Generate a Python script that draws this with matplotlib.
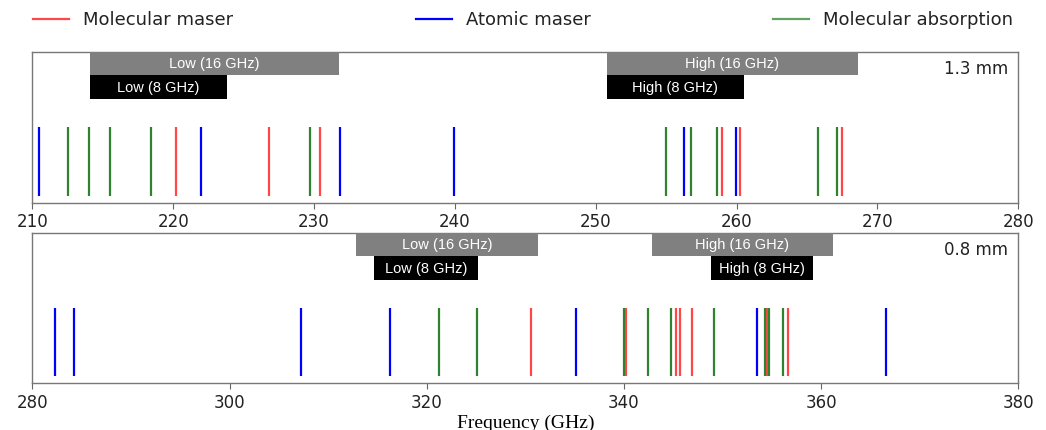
import matplotlib
matplotlib.use("Agg")
import matplotlib.pyplot as plt
from matplotlib.lines import Line2D
from matplotlib.patches import Rectangle
import matplotlib.transforms as mtransforms

# ---- data (GHz) ----
mol_maser_13 = [220.20, 226.82, 230.45, 258.96, 260.22, 267.45]
atomic_13 = [210.48, 221.96, 231.84, 239.94, 256.24, 259.94]
absorption_13 = [212.56, 214.03, 215.54, 218.41, 229.69, 254.97, 256.78, 258.61, 265.80, 267.11]

mol_maser_08 = [330.54, 340.17, 345.31, 345.68, 346.90, 354.47, 356.63]
atomic_08 = [282.29, 284.19, 307.20, 316.32, 335.18, 353.55, 366.57]
absorption_08 = [321.22, 325.11, 340.00, 342.40, 344.77, 349.09, 354.33, 354.74, 356.13]

band_names = ["Low (16 GHz)", "Low (8 GHz)", "High (16 GHz)", "High (8 GHz)"]
bands_13 = [(214.1, 231.8), (214.1, 223.8), (250.8, 268.6), (250.8, 260.5)]
bands_08 = [(312.8, 331.3), (314.7, 325.2), (342.8, 361.2), (348.8, 359.2)]

xlim_13 = (210, 280)
xlim_08 = (280, 380)
ticks_13 = [210, 220, 230, 240, 250, 260, 270, 280]
ticks_08 = [280, 300, 320, 340, 360, 380]

legend_labels = ["Molecular maser", "Atomic maser", "Molecular absorption"]

C_RED = (1.0, 0.0, 0.0, 0.72)
C_BLUE = (0.0, 0.0, 1.0, 1.0)
C_GREEN = "#2f822f"

fig = plt.figure(figsize=(10.46, 4.30), dpi=100)
ax1 = fig.add_axes([0.0309, 0.5286, 0.9426, 0.3505])
ax2 = fig.add_axes([0.0309, 0.1086, 0.9426, 0.3488])


def draw(ax, maser, atomic, absorb, bands, xlim, ticks, label):
    ax.set_xlim(*xlim)
    ax.set_ylim(0, 1)
    lw = 1.6
    ax.vlines(maser, 0.046, 0.5, color=C_RED, lw=lw)
    ax.vlines(atomic, 0.046, 0.5, color=C_BLUE, lw=lw)
    ax.vlines(absorb, 0.046, 0.5, color=C_GREEN, lw=lw)
    trans = mtransforms.blended_transform_factory(ax.transData, ax.transAxes)
    ys = [(0.848, 1.0, "#808080"), (0.69, 0.848, "black"),
          (0.848, 1.0, "#808080"), (0.69, 0.848, "black")]
    for (x0, x1), name, (y0, y1, c) in zip(bands, band_names, ys):
        ax.add_patch(Rectangle((x0, y0), x1 - x0, y1 - y0, transform=trans,
                               facecolor=c, edgecolor="none", zorder=3,
                               clip_on=False))
        ax.text((x0 + x1) / 2, (y0 + y1) / 2 - 0.005, name, transform=trans,
                ha="center", va="center", color="white", fontsize=10.5,
                family="Liberation Sans", zorder=4)
    ax.text(0.99, 0.89, label, transform=ax.transAxes, ha="right",
            va="center", fontsize=12, color="#222222")
    ax.set_yticks([])
    ax.set_xticks(ticks)
    ax.tick_params(axis="x", labelsize=12, color="#666666", length=4,
                   labelcolor="#222222")
    for s in ax.spines.values():
        s.set_color("#777777")
        s.set_linewidth(1.0)


draw(ax1, mol_maser_13, atomic_13, absorption_13, bands_13, xlim_13, ticks_13, "1.3 mm")
draw(ax2, mol_maser_08, atomic_08, absorption_08, bands_08, xlim_08, ticks_08, "0.8 mm")

ax2.set_xlabel("Frequency (GHz)", family="Liberation Serif", fontsize=14,
               labelpad=2)

handles = [Line2D([], [], color=C_RED, lw=1.6),
           Line2D([], [], color=C_BLUE, lw=1.6),
           Line2D([], [], color=C_GREEN, lw=1.6, alpha=0.75)]
fig.legend(handles, legend_labels, loc="center", ncol=3,
           bbox_to_anchor=(0.5, 0.953), frameon=False,
           fontsize=13, handlelength=2.0, handletextpad=0.78,
           columnspacing=10.1, borderaxespad=0, borderpad=0,
           labelcolor="#222222")

fig.savefig("out.png", dpi=100)
